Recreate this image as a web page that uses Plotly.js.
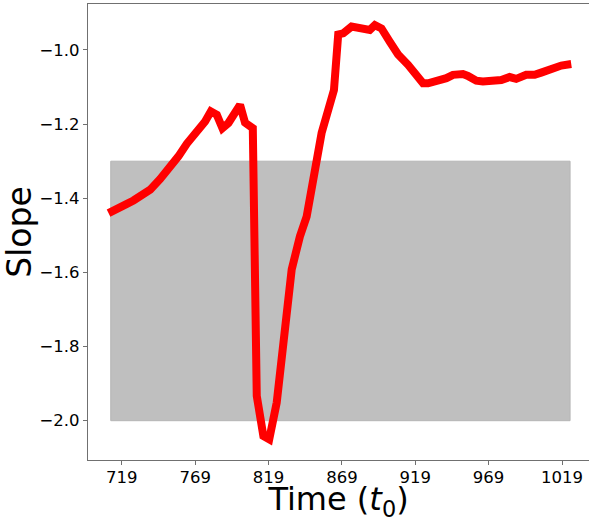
<!DOCTYPE html>
<html>
<head>
<meta charset="utf-8">
<script src="https://cdn.plot.ly/plotly-3.0.1.min.js"></script>
<style>html,body{margin:0;padding:0;background:#fff;}#chart{width:589px;height:522px;}</style>
</head>
<body>
<div id="chart"></div>
<script>
// Time values (t0) and slope values
const timeVals = [710.0, 715.7, 722.5, 727.0, 733.8, 738.4, 745.2, 752.0, 757.6, 763.3, 770.2, 775.8, 779.7, 783.8, 787.6, 791.7, 799.6, 803.0, 808.3, 811.0, 815.5, 819.5, 824.6, 834.8, 840.4, 845.0, 855.2, 863.6, 866.5, 869.9, 875.6, 880.1, 884.6, 888.0, 891.5, 896.0, 901.7, 907.3, 914.1, 918.7, 924.3, 927.7, 932.3, 935.7, 940.2, 944.7, 951.5, 954.9, 960.6, 965.1, 971.9, 977.6, 983.3, 987.8, 994.6, 1000.3, 1004.8, 1009.3, 1013.9, 1018.5, 1025.3];
const slopeVals = [-1.440, -1.431, -1.415, -1.406, -1.390, -1.377, -1.348, -1.318, -1.287, -1.253, -1.220, -1.193, -1.166, -1.175, -1.211, -1.197, -1.148, -1.196, -1.211, -1.933, -2.041, -2.050, -1.951, -1.592, -1.503, -1.449, -1.224, -1.108, -0.958, -0.955, -0.937, -0.939, -0.946, -0.946, -0.933, -0.942, -0.978, -1.012, -1.040, -1.063, -1.090, -1.090, -1.085, -1.083, -1.076, -1.067, -1.065, -1.070, -1.083, -1.085, -1.083, -1.081, -1.073, -1.078, -1.067, -1.067, -1.061, -1.054, -1.045, -1.042, -1.038];
// Shaded band bounds
const bandTime = [711.5, 1024.5];
const bandSlope = [-2.0, -1.3];
// Tick labels
const xTicks = [719, 769, 819, 869, 919, 969, 1019];
const yTicks = [-2.0, -1.8, -1.6, -1.4, -1.2, -1.0];

const band = {
  x: [bandTime[0], bandTime[1], bandTime[1], bandTime[0], bandTime[0]],
  y: [bandSlope[0], bandSlope[0], bandSlope[1], bandSlope[1], bandSlope[0]],
  type: 'scatter', mode: 'lines', fill: 'toself',
  fillcolor: '#bfbfbf', line: {color: '#b5b5b5', width: 1},
  hoverinfo: 'skip', showlegend: false
};
const line = {
  x: timeVals, y: slopeVals, type: 'scatter', mode: 'lines',
  line: {color: '#ff0000', width: 8}, showlegend: false
};

const font = 'DejaVu Sans, sans-serif';
const layout = {
  width: 589, height: 522,
  margin: {l: 88, r: 0, t: 4, b: 62},
  paper_bgcolor: '#ffffff', plot_bgcolor: '#ffffff',
  font: {family: font, color: '#000'},
  xaxis: {
    range: [696, 1037.4], tickvals: xTicks, ticktext: xTicks.map(String),
    showgrid: false, zeroline: false, showline: true, mirror: true,
    linecolor: '#707070', linewidth: 1.2,
    ticks: 'outside', ticklen: 4, tickcolor: '#707070',
    ticklabelstandoff: -2,
    tickfont: {family: font, size: 16.5, color: '#000'},
    title: {text: 'Time (<i>t</i><sub>0</sub>)', font: {family: font, size: 32, color: '#000'}, standoff: 6}
  },
  yaxis: {
    range: [-2.106, -0.876], tickvals: yTicks, tickformat: '.1f',
    showgrid: false, zeroline: false, showline: true, mirror: false,
    linecolor: '#707070', linewidth: 1.2,
    ticks: 'outside', ticklen: 4, tickcolor: '#707070',
    tickfont: {family: font, size: 16.5, color: '#000'},
    title: {text: 'Slope', font: {family: font, size: 33, color: '#000'}, standoff: 1}
  }
};
Plotly.newPlot('chart', [band, line], layout, {displayModeBar: false, staticPlot: true});
</script>
</body>
</html>
